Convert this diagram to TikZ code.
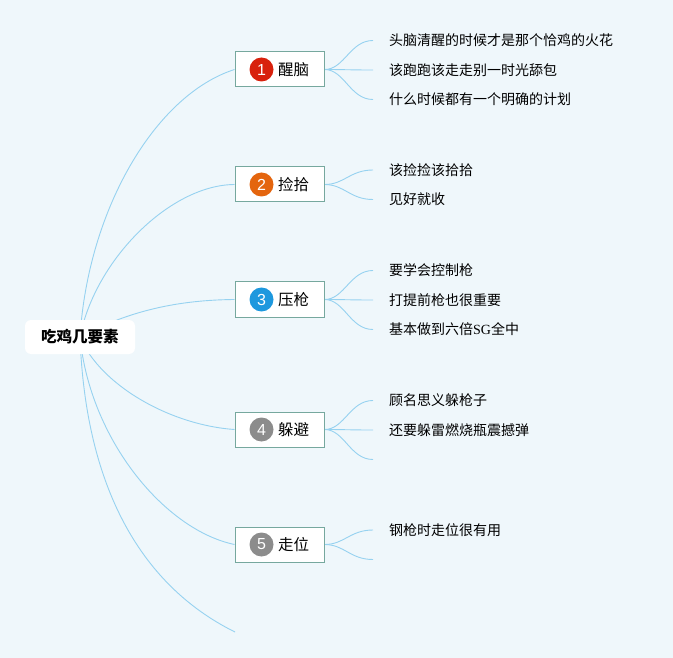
\documentclass[tikz,border=0pt]{standalone}
\usepackage{fontspec}
\setmainfont{Noto Sans CJK SC}
\newfontfamily\numfont{Liberation Sans}
\newfontfamily\serifsg{Liberation Serif}
\usetikzlibrary{calc}
\pgfdeclarelayer{bg}
\pgfdeclarelayer{edges}
\pgfsetlayers{bg,edges,main}
\definecolor{bgc}{RGB}{239,247,251}
\definecolor{boxc}{RGB}{118,168,158}
\definecolor{linec}{RGB}{150,210,240}
\definecolor{cred}{RGB}{216,33,13}
\definecolor{corange}{RGB}{228,101,14}
\definecolor{cblue}{RGB}{29,152,222}
\definecolor{cgray}{RGB}{140,140,140}
\begin{document}
\begin{tikzpicture}[x=1pt,y=-1pt,
  rootbox/.style={fill=white, rounded corners=6pt, minimum width=110pt, minimum height=34pt, inner sep=0pt, font=\fontsize{15.5}{17}\selectfont\bfseries},
  topic/.style={draw=boxc, line width=1pt, fill=white, minimum width=89pt, minimum height=35pt, inner sep=0pt, font=\fontsize{15.5}{17}\selectfont},
  badge/.style={circle, fill=#1, minimum size=24pt, inner sep=0pt, text=white, font=\fontsize{16}{16}\numfont},
  leaf/.style={anchor=west, inner xsep=16pt, inner ysep=2pt, font=\fontsize{14}{16}\selectfont},
  branch/.style={draw=linec, line width=0.9pt},
  twig/.style={draw=linec, line width=0.9pt}]
\useasboundingbox (0,0) rectangle (673,658);
\begin{pgfonlayer}{bg}
\fill[bgc] (0,0) rectangle (673,658);
\end{pgfonlayer}

% root
\node[rootbox] (root) at (80,337) {吃鸡几要素};

% topics
\node[topic] (t1) at (279.5,69.5) {\hspace*{28pt}醒脑};
\node[topic] (t2) at (279.5,184.5) {\hspace*{28pt}捡拾};
\node[topic] (t3) at (279.5,299.5) {\hspace*{28pt}压枪};
\node[topic] (t4) at (279.5,429.5) {\hspace*{28pt}躲避};
\node[topic] (t5) at (279.5,544.5) {\hspace*{28pt}走位};
\coordinate (e6) at (235,632);

% badges
\node[badge=cred] (b1) at ($(t1.west)+(27,0)$) {1};
\node[badge=corange] (b2) at ($(t2.west)+(27,0)$) {2};
\node[badge=cblue] (b3) at ($(t3.west)+(27,0)$) {3};
\node[badge=cgray] (b4) at ($(t4.west)+(27,0)$) {4};
\node[badge=cgray] (b5) at ($(t5.west)+(27,0)$) {5};

% leaves
\node[leaf] (l11) at (373,40.5) {头脑清醒的时候才是那个恰鸡的火花};
\node[leaf] (l12) at (373,70) {该跑跑该走走别一时光舔包};
\node[leaf] (l13) at (373,99.5) {什么时候都有一个明确的计划};
\node[leaf] (l21) at (373,170) {该捡捡该拾拾};
\node[leaf] (l22) at (373,199.5) {见好就收};
\node[leaf] (l31) at (373,270.5) {要学会控制枪};
\node[leaf] (l32) at (373,300) {打提前枪也很重要};
\node[leaf] (l33) at (373,329.5) {基本做到六倍{\serifsg SG}全中};
\node[leaf] (l41) at (373,400.5) {顾名思义躲枪子};
\node[leaf] (l42) at (373,430) {还要躲雷燃烧瓶震撼弹};
\node[leaf] (l43) at (373,459.5) {};
\node[leaf] (l51) at (373,530) {钢枪时走位很有用};
\node[leaf] (l52) at (373,559.5) {};

\begin{pgfonlayer}{edges}
\draw[branch] (root.center) .. controls (88,210) and (155,95) .. (t1.west);
\draw[branch] (root.center) .. controls (95,260) and (170,185) .. (t2.west);
\draw[branch] (root.center) .. controls (130,310) and (180,300) .. (t3.west);
\draw[branch] (root.center) .. controls (100,385) and (170,425) .. (t4.west);
\draw[branch] (root.center) .. controls (90,440) and (165,530) .. (t5.west);
\draw[branch] (root.center) .. controls (86,500) and (150,590) .. (e6);
\foreach \a/\b in {t1/l11,t1/l12,t1/l13,t2/l21,t2/l22,t3/l31,t3/l32,t3/l33,t4/l41,t4/l42,t4/l43,t5/l51,t5/l52}
  \draw[twig] (\a.east) .. controls ($(\a.east)+(20,0)$) and ($(\b.west)+(-23,0)$) .. (\b.west);
\end{pgfonlayer}
\end{tikzpicture}
\end{document}
